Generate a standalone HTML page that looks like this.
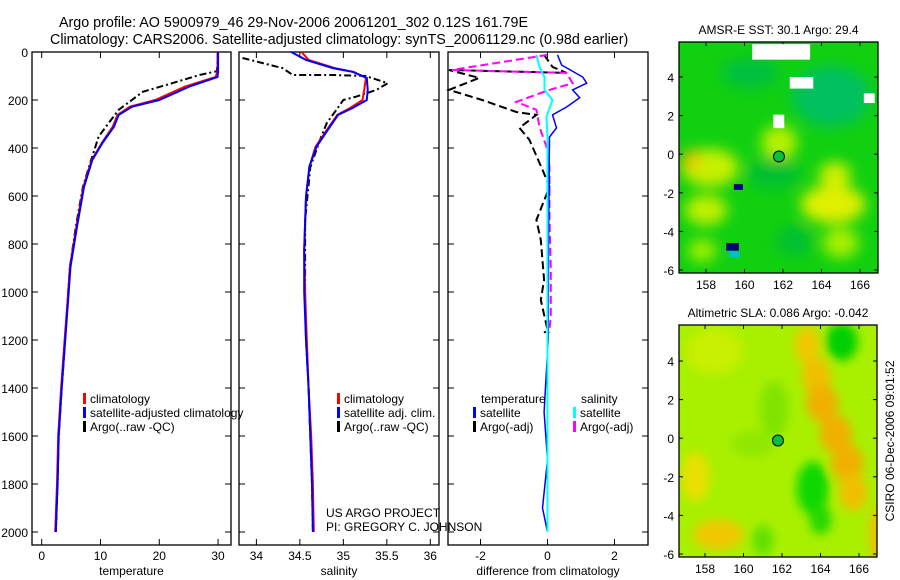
<!DOCTYPE html>
<html><head><meta charset="utf-8">
<style>
html,body{margin:0;padding:0;background:#fff;}
svg{display:block;font-family:"Liberation Sans",sans-serif;}
text{fill:#000;}
</style></head>
<body>
<svg id="fig" width="900" height="580" viewBox="0 0 900 580">
<text x="59" y="27" font-size="14.3">Argo profile: AO 5900979_46 29-Nov-2006 20061201_302 0.12S 161.79E</text>
<text x="50" y="44" font-size="14.3">Climatology: CARS2006. Satellite-adjusted climatology: synTS_20061129.nc (0.98d earlier)</text>
<g id="plots"></g>
<g id="maps"></g>
<text transform="translate(894,441) rotate(-90)" text-anchor="middle" font-size="12">CSIRO 06-Dec-2006 09:01:52</text>
</svg>
<script>
// ---- data ----
const tempDepth = [0,80,104,144,200,228,262,311,380,450,562,728,895,1000,1200,1400,1600,1800,2000];
const tempSat   = [30.0,30.0,29.9,25.1,20.0,15.4,13.1,12.3,10.3,8.6,7.2,6.0,4.9,4.6,4.0,3.4,2.9,2.7,2.4];
const tempClim  = [29.9,29.9,29.6,24.4,19.3,15.0,12.9,12.1,10.2,8.5,7.1,5.9,4.8,4.5,3.9,3.3,2.8,2.6,2.3];
const argoTDepth = [0,80,96,130,166,241,296,352,450,562,728,895,1000,1200,1400,1600,1800,2000];
const argoTemp   = [30.0,29.8,26.8,22.2,17.2,13.1,11.4,9.7,8.4,7.0,5.8,4.8,4.5,4.0,3.4,2.9,2.7,2.4];

const salDepth = [0,33,67,83,108,158,200,233,262,325,395,478,603,825,1000,1200,1400,1600,1800,2000];
const salSat   = [34.40,34.57,34.88,35.11,35.27,35.28,35.27,35.11,34.94,34.82,34.69,34.61,34.57,34.55,34.55,34.57,34.60,34.62,34.64,34.65];
const salClim  = [34.52,34.60,34.90,35.12,35.26,35.24,35.22,35.08,34.93,34.81,34.68,34.61,34.57,34.55,34.56,34.58,34.60,34.63,34.65,34.66];
const argoSDepth = [25,67,96,96,100,117,130,158,186,200,241,296,367,480,700,1000,1200,1400,1600,1800,2000];
const argoSal    = [33.84,34.30,34.42,34.88,35.26,35.40,35.51,35.38,35.15,35.0,34.92,34.81,34.73,34.62,34.56,34.56,34.57,34.60,34.62,34.64,34.65];

const diffDepth = [12,54,104,130,158,191,229,262,316,354,500,800,1200,1500,1700,1900,2000];
const diffTSat  = [0.3,0.42,1.05,1.17,0.75,0.96,0.57,0.15,0.27,0.06,0.05,0.03,0.02,-0.1,0.0,-0.15,0.0];
const diffSDepth = [12,62,104,158,200,270,354,600,1000,1500,2000];
const diffSSat   = [-0.33,-0.24,-0.09,-0.09,0.15,-0.03,0.0,0.0,0.0,0.0,0.0];
const diffTArgoDepth = [12,62,87,75,108,158,200,250,262,316,366,491,562,700,783,950,1033,1158,1170];
const diffTArgo = [-0.1,0.15,0.57,-2.94,-2.04,-2.94,-1.95,-0.93,-0.33,-0.84,-0.54,-0.15,0.06,-0.33,-0.2,-0.1,-0.2,0.0,-0.1];
const diffSArgoDepth = [12,75,87,130,158,208,241,312,395,480,700,900,1100,1170];
const diffSArgo = [0.0,-2.85,0.57,0.75,0.06,-0.93,-0.33,-0.24,-0.03,0.06,0.06,0.1,0.1,0.05];

const depthTicks = [0,200,400,600,800,1000,1200,1400,1600,1800,2000];
const tempTicks = [0,10,20,30];
const salTicks = [34,34.5,35,35.5,36];
const salTickLabels = ["34","34.5","35","35.5","36"];
const diffTicks = [-2,0,2];
const lonTicks = [158,160,162,164,166];
const latTicks = [4,2,0,-2,-4,-6];

const NS="http://www.w3.org/2000/svg";
function mk(tag, attrs, parent){const e=document.createElementNS(NS,tag);for(const k in attrs)e.setAttribute(k,attrs[k]);parent.appendChild(e);return e;}
const plots=document.getElementById('plots');

const yTop=52, yBot=545;
const yScale = d => 52 + d*0.24;

function panel(name, x0, x1, xmin, xmax){
  const g=mk('g',{},plots);
  
  
  const xs = v => x0 + (v-xmin)/(xmax-xmin)*(x1-x0);
  return {g, xs};
}
function frame(p, x0, x1, xt, xlabels, depthLabels, xtitle){
  const r=mk('rect',{x:x0,y:yTop,width:x1-x0,height:yBot-yTop,fill:'none',stroke:'#000','stroke-width':1.3},p.g);
  
  
  depthTicks.forEach(d=>{
    const y=yScale(d);
    mk('line',{x1:x0,x2:x0+6,y1:y,y2:y,stroke:'#000'},p.g);
    mk('line',{x1:x1,x2:x1-6,y1:y,y2:y,stroke:'#000'},p.g);
    if(depthLabels){
      const t=mk('text',{x:x0-4,y:y+5,'text-anchor':'end','font-size':12},p.g);
      t.textContent=d;
      
      
    }
  });
  xt.forEach((v,i)=>{
    const x=p.xs(v);
    mk('line',{x1:x,x2:x,y1:yBot,y2:yBot-6,stroke:'#000'},p.g);
    mk('line',{x1:x,x2:x,y1:yTop,y2:yTop+6,stroke:'#000'},p.g);
    const t=mk('text',{x:x,y:yBot+15,'text-anchor':'middle','font-size':12},p.g);
    t.textContent=xlabels[i];
    
    
  });
  const tt=mk('text',{x:(x0+x1)/2,y:yBot+30,'text-anchor':'middle','font-size':12},p.g);
  tt.textContent=xtitle;
  
  
}
function line(p, vals, depths, color, w, dash, name){
  const pts=vals.map((v,i)=>p.xs(v).toFixed(1)+','+yScale(depths[i]).toFixed(1)).join(' ');
  const l=mk('polyline',{points:pts,fill:'none',stroke:color,'stroke-width':w,'stroke-dasharray':dash||'none'},p.g);
  
  
}
function legend(g, x, y, color, label){
  mk('rect',{x:x,y:y-10,width:3,height:11,fill:color},g);
  const t=mk('text',{x:x+7,y:y,'font-size':12},g);
  t.textContent=label;
  
  
}

// temperature
const pT=panel('temperature-panel',32,231,-1.65,32.2);
frame(pT,32,231,tempTicks,tempTicks.map(String),true,'temperature');
line(pT,argoTemp,argoTDepth,'#000',2,'7,3,2,3','argo-temperature-line');
line(pT,tempClim,tempDepth,'#f00',2,null,'climatology-temperature-line');
line(pT,tempSat,tempDepth,'#00f',2,null,'satellite-temperature-line');
legend(pT.g,83,403,'#f00','climatology');
legend(pT.g,83,417,'#00f','satellite-adjusted climatology');
legend(pT.g,83,431,'#000','Argo(..raw -QC)');

// salinity
const pS=panel('salinity-panel',239,439,33.8,36.1);
frame(pS,239,439,salTicks,salTickLabels,false,'salinity');
line(pS,argoSal,argoSDepth,'#000',2,'7,3,2,3','argo-salinity-line');
line(pS,salClim,salDepth,'#f00',2,null,'climatology-salinity-line');
line(pS,salSat,salDepth,'#00f',2,null,'satellite-salinity-line');
legend(pS.g,337,403,'#f00','climatology');
legend(pS.g,337,417,'#00f','satellite adj. clim.');
legend(pS.g,337,431,'#000','Argo(..raw -QC)');
const u1=mk('text',{x:326,y:517,'font-size':12},pS.g);u1.textContent='US ARGO PROJECT';


const u2=mk('text',{x:326,y:531,'font-size':12},pS.g);u2.textContent='PI: GREGORY C. JOHNSON';



// difference
const pD=panel('difference-panel',448,648,-2.97,3.0);
frame(pD,448,648,diffTicks,diffTicks.map(String),false,'difference from climatology');
line(pD,diffTArgo,diffTArgoDepth,'#000',2,'8,4','argo-temperature-diff-line');
line(pD,diffSArgo,diffSArgoDepth,'#f0f',2,'8,4','argo-salinity-diff-line');
line(pD,diffTSat,diffDepth,'#00f',1.5,null,'satellite-temperature-diff-line');
line(pD,diffSSat,diffSDepth,'#0ff',2,null,'satellite-salinity-diff-line');
const lt=mk('text',{x:481,y:403,'font-size':12},pD.g);lt.textContent='temperature';


const ls=mk('text',{x:581,y:403,'font-size':12},pD.g);ls.textContent='salinity';


legend(pD.g,473,417,'#00f','satellite');
legend(pD.g,473,431,'#000','Argo(-adj)');
legend(pD.g,573,417,'#0ff','satellite');
legend(pD.g,573,431,'#f0f','Argo(-adj)');

// ---- maps ----
const maps=document.getElementById('maps');
const sstBlobs = [
  [158.2,-0.7,1.6,1.0,'#c8f000'],[157.2,-0.3,0.5,0.5,'#f0c000'],[161.8,0.6,1.0,0.9,'#b8f000'],
  [164.6,-2.6,1.8,1.0,'#e0f000'],[164.7,-1.1,0.9,0.7,'#d0f000'],[158.0,-2.9,1.2,0.8,'#c0f000'],
  [165.0,-4.6,1.0,0.8,'#a8f000'],[157.8,-5.0,0.8,0.6,'#a0f000'],[164.5,3.0,2.2,1.6,'#00c060'],
  [160.3,4.2,1.6,0.8,'#00c040'],[161.5,-1.0,1.5,0.8,'#00c030'],[162.6,-4.5,1.0,0.8,'#00c030']
];
const slaBlobs = [
  [158.5,4.5,1.6,1.2,'#c8f000'],[157.5,-2.0,0.8,1.3,'#e8e000'],
  [163.3,4.8,0.7,1.0,'#f0c800'],[163.8,3.2,0.8,1.0,'#f0c000'],[164.1,1.8,0.9,1.0,'#f0b000'],
  [164.8,0.2,0.9,1.0,'#f0b000'],[165.4,-1.3,0.9,1.0,'#f0b000'],[165.7,-2.8,0.8,1.0,'#f0c000'],
  [158.7,-5.0,1.4,0.8,'#f0c800'],[165.1,5.0,0.9,1.0,'#00d000'],[163.6,-2.6,0.9,1.4,'#10d800'],
  [164.0,-4.2,0.6,0.8,'#20d800'],[160.5,-0.3,1.2,0.7,'#90e800'],[161.6,1.5,0.8,1.5,'#80e400'],
  [161.0,-5.3,0.6,0.8,'#60e000'],[167,-5,0.5,1.5,'#f0c000']
];
function map(name, x0, y0, w, h, lonPx, latY4, title, bg, blobs, blurId, blur){
  const g=mk('g',{},maps);
  
  
  const lx = lon => lonPx[0] + (lon-158)/8*(lonPx[1]-lonPx[0]);
  const ly = lat => latY4 + (4-lat)*19.3;
  const cp=mk('clipPath',{id:'c'+blurId},g);
  mk('rect',{x:x0,y:y0,width:w,height:h},cp);
  const f=mk('filter',{id:blurId,x:'-50%',y:'-50%',width:'200%',height:'200%'},g);
  mk('feGaussianBlur',{stdDeviation:blur},f);
  mk('rect',{x:x0,y:y0,width:w,height:h,fill:bg},g);
  const bg2=mk('g',{'clip-path':'url(#c'+blurId+')'},g);
  const bg3=mk('g',{filter:'url(#'+blurId+')'},bg2);
  blobs.forEach(b=>{
    const e=mk('ellipse',{cx:lx(b[0]),cy:ly(b[1]),rx:b[2]*18,ry:b[3]*19,fill:b[4]},bg3);
    
    
  });
  const dot=mk('circle',{cx:lx(161.79),cy:ly(-0.12),r:5.5,fill:'#00c040',stroke:'#000','stroke-width':1},g);
  
  
  mk('rect',{x:x0,y:y0,width:w,height:h,fill:'none',stroke:'#000','stroke-width':1.3},g);
  lonTicks.forEach(lon=>{
    const x=lx(lon);
    mk('line',{x1:x,x2:x,y1:y0+h,y2:y0+h-4,stroke:'#000'},g);
    mk('line',{x1:x,x2:x,y1:y0,y2:y0+4,stroke:'#000'},g);
    const t=mk('text',{x:x,y:y0+h+16,'text-anchor':'middle','font-size':12},g);t.textContent=lon;
    
    
  });
  latTicks.forEach(lat=>{
    const y=ly(lat);
    mk('line',{x1:x0,x2:x0+4,y1:y,y2:y,stroke:'#000'},g);
    mk('line',{x1:x0+w,x2:x0+w-4,y1:y,y2:y,stroke:'#000'},g);
    const t=mk('text',{x:x0-5,y:y+5,'text-anchor':'end','font-size':12},g);t.textContent=lat;
    
    
  });
  const tt=mk('text',{x:x0+w/2,y:y0-8,'text-anchor':'middle','font-size':12},g);tt.textContent=title;
  
  
  return {g,lx,ly};
}
const m1=map('sst-map',679,42,199,231,[706,860],77,'AMSR-E SST: 30.1 Argo: 29.4','#10d010',sstBlobs,'b1',7);
[[162.0,5.3,3.2,0.8,'#fff'],[163.0,3.7,1.3,0.6,'#fff'],[166.5,2.9,0.6,0.5,'#fff'],[161.8,1.7,0.6,0.7,'#fff'],
 [159.4,-4.8,0.7,0.4,'#000080'],[159.7,-1.7,0.5,0.3,'#000080'],[159.5,-5.2,0.6,0.3,'#00c0c0']].forEach(r=>{
  const e=mk('rect',{x:m1.lx(r[0]-r[2]/2),y:m1.ly(r[1]+r[3]/2),width:r[2]*18.1,height:r[3]*19.3,fill:r[4]},m1.g);
  
  
});
map('sla-map',679,325,198,232,[705,859],361,'Altimetric SLA: 0.086 Argo: -0.042','#a8f000',slaBlobs,'b2',5);
</script>
</body></html>
